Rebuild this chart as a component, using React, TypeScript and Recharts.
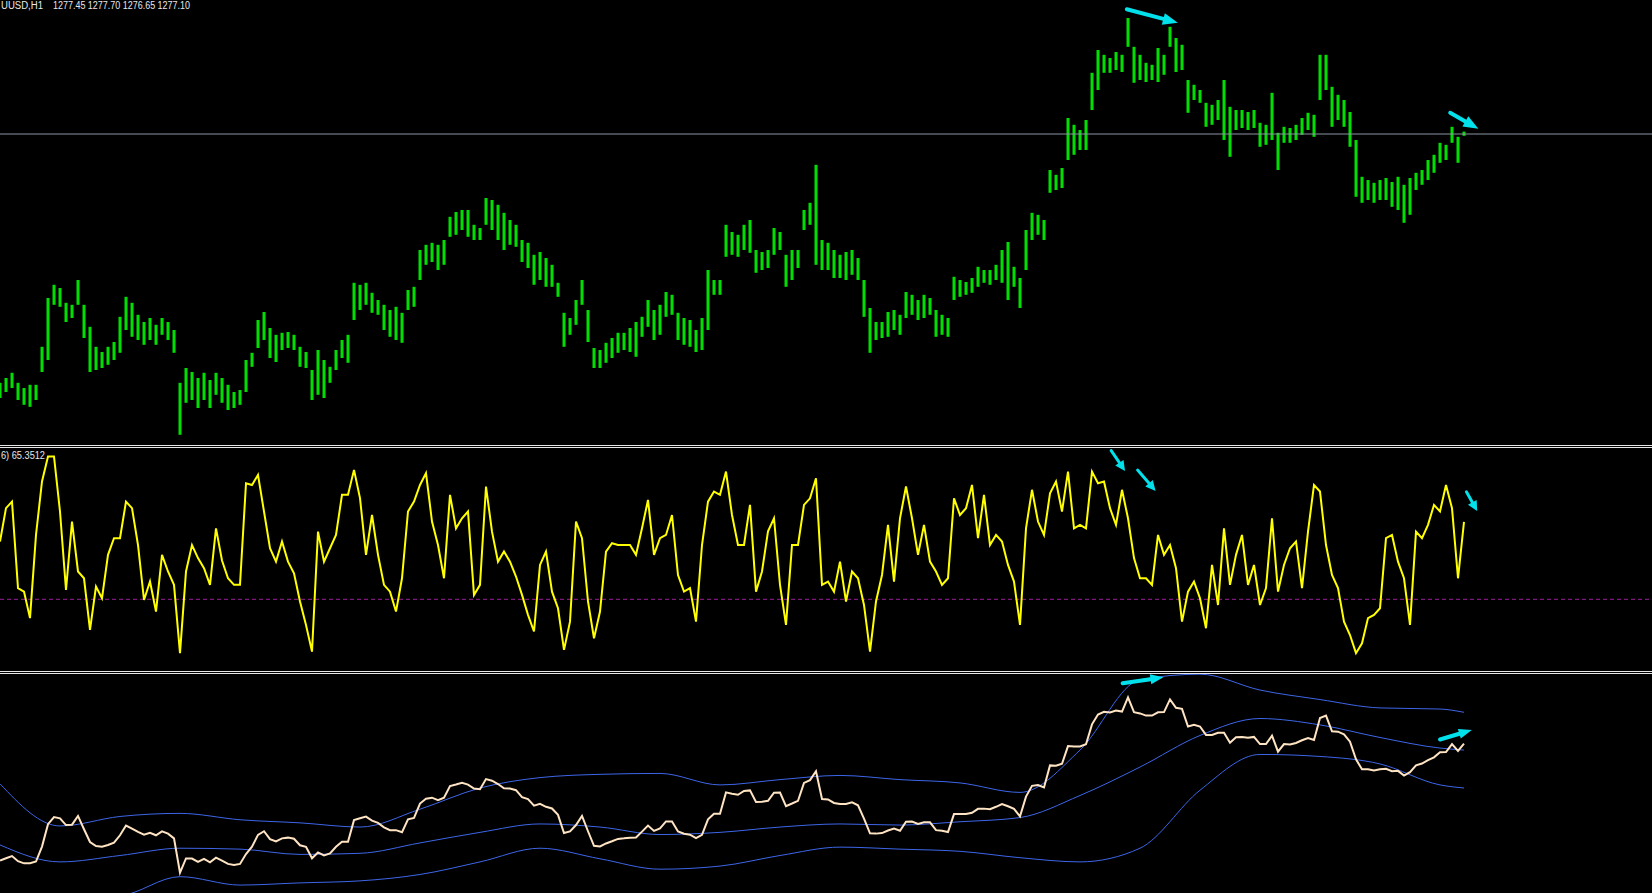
import {
  ComposedChart,
  LineChart,
  Bar,
  Line,
  XAxis,
  YAxis,
  ReferenceLine,
} from 'recharts'

// H1 bars, one entry per sampled bar (6px apart on screen)
const highs = [
  1214.9, 1216.1, 1217.4, 1214.9, 1213.6, 1214.4, 1214.4, 1223.9, 1236.1, 1239.4,
  1238.6, 1234.9, 1234.4, 1240.6, 1234.4, 1228.9, 1223.9, 1222.6, 1223.9, 1225.1,
  1231.4, 1236.4, 1234.9, 1231.9, 1230.1, 1231.1, 1229.4, 1231.1, 1230.1, 1228.1,
  1214.9, 1218.6, 1217.6, 1216.1, 1217.4, 1215.6, 1217.4, 1216.1, 1214.4, 1212.6,
  1213.1, 1220.6, 1222.4, 1230.6, 1232.6, 1228.6, 1226.9, 1227.4, 1227.6, 1226.9,
  1223.9, 1222.6, 1218.1, 1223.1, 1220.6, 1218.9, 1223.1, 1225.6, 1226.9, 1239.9,
  1239.4, 1239.9, 1237.4, 1235.6, 1234.4, 1233.1, 1233.9, 1232.4, 1238.1, 1238.9,
  1248.1, 1249.4, 1249.9, 1249.4, 1250.6, 1256.4, 1257.6, 1258.1, 1258.1, 1254.4,
  1253.6, 1261.1, 1260.6, 1259.4, 1257.4, 1255.6, 1254.4, 1250.6, 1249.9, 1246.9,
  1247.6, 1246.1, 1244.4, 1239.9, 1232.4, 1231.1, 1235.6, 1240.6, 1233.1, 1223.6,
  1223.1, 1224.9, 1226.1, 1227.4, 1227.4, 1228.6, 1230.1, 1231.4, 1235.6, 1233.1,
  1234.4, 1237.6, 1236.9, 1232.4, 1231.1, 1230.6, 1228.1, 1231.1, 1243.1, 1240.6,
  1240.6, 1254.4, 1252.6, 1251.9, 1254.4, 1255.6, 1248.1, 1247.6, 1248.1, 1253.6,
  1252.6, 1246.9, 1248.1, 1248.1, 1258.1, 1259.9, 1269.4, 1250.6, 1249.9, 1248.1,
  1246.9, 1247.6, 1248.1, 1246.1, 1240.6, 1233.6, 1230.1, 1230.1, 1232.6, 1233.1,
  1231.9, 1237.6, 1236.9, 1235.6, 1236.9, 1236.1, 1233.1, 1231.9, 1231.1, 1241.4,
  1240.6, 1240.1, 1241.1, 1243.9, 1243.1, 1243.1, 1244.4, 1248.1, 1250.1, 1243.9,
  1241.1, 1253.1, 1257.4, 1256.9, 1255.6, 1268.1, 1266.9, 1268.6, 1281.1, 1279.4,
  1278.1, 1280.6, 1292.4, 1298.1, 1296.9, 1296.1, 1297.6, 1296.9, 1306.1, 1298.9,
  1296.9, 1294.9, 1294.4, 1298.6, 1296.9, 1303.9, 1301.1, 1299.4, 1290.6, 1289.4,
  1288.1, 1284.9, 1284.4, 1285.6, 1290.6, 1283.9, 1283.1, 1283.1, 1282.6, 1283.1,
  1279.9, 1279.4, 1287.4, 1277.4, 1278.9, 1278.6, 1279.4, 1281.1, 1282.4, 1281.9,
  1296.9, 1296.9, 1288.9, 1286.9, 1285.6, 1282.6, 1275.6, 1266.4, 1265.6, 1264.9,
  1265.6, 1266.1, 1265.1, 1266.4, 1264.4, 1266.1, 1267.4, 1268.1, 1270.6, 1271.9,
  1274.9, 1274.4, 1278.9, 1276.4, 1277.7,
]

const lows = [
  1211.1, 1212.6, 1213.6, 1210.6, 1209.4, 1208.9, 1210.6, 1217.6, 1220.6, 1234.4,
  1233.9, 1230.1, 1231.1, 1234.4, 1226.1, 1217.6, 1218.1, 1218.6, 1219.4, 1220.6,
  1222.4, 1228.1, 1226.4, 1225.6, 1224.4, 1225.6, 1224.4, 1226.9, 1225.6, 1222.4,
  1201.9, 1209.9, 1210.6, 1208.6, 1210.6, 1208.6, 1211.9, 1209.9, 1208.1, 1208.6,
  1209.4, 1212.6, 1218.9, 1223.6, 1225.6, 1221.1, 1220.1, 1223.1, 1223.6, 1223.1,
  1218.9, 1218.6, 1210.6, 1211.9, 1211.1, 1214.9, 1218.1, 1221.1, 1219.9, 1230.6,
  1233.1, 1234.4, 1232.4, 1231.9, 1228.1, 1226.4, 1225.6, 1224.9, 1233.1, 1233.9,
  1240.6, 1244.4, 1245.1, 1243.1, 1244.4, 1251.4, 1251.9, 1253.1, 1251.4, 1250.6,
  1250.6, 1254.4, 1253.1, 1250.6, 1248.1, 1249.4, 1248.9, 1245.1, 1243.6, 1239.4,
  1240.6, 1238.9, 1238.9, 1236.4, 1223.9, 1226.9, 1229.4, 1234.4, 1225.1, 1218.6,
  1218.6, 1219.9, 1221.1, 1222.4, 1223.1, 1222.6, 1221.4, 1226.4, 1228.9, 1225.6,
  1226.9, 1231.4, 1231.9, 1225.6, 1224.4, 1223.9, 1222.6, 1223.1, 1228.1, 1236.9,
  1236.9, 1246.4, 1246.9, 1246.4, 1248.1, 1247.4, 1242.4, 1243.1, 1243.6, 1246.9,
  1248.1, 1238.9, 1240.6, 1243.6, 1253.1, 1254.4, 1244.4, 1243.1, 1243.1, 1241.1,
  1241.1, 1240.6, 1241.9, 1240.6, 1231.4, 1222.4, 1225.6, 1226.1, 1226.4, 1228.1,
  1226.9, 1231.1, 1231.9, 1230.6, 1231.1, 1231.9, 1226.4, 1226.9, 1226.4, 1235.6,
  1236.4, 1236.9, 1237.4, 1238.9, 1239.9, 1239.4, 1240.6, 1239.9, 1235.6, 1238.9,
  1233.6, 1243.1, 1250.6, 1251.9, 1250.6, 1262.4, 1263.1, 1263.6, 1270.6, 1271.9,
  1273.1, 1273.1, 1283.1, 1288.1, 1292.4, 1292.4, 1293.1, 1292.6, 1298.9, 1289.9,
  1290.6, 1290.1, 1290.6, 1290.1, 1291.9, 1298.9, 1292.6, 1293.1, 1282.4, 1285.6,
  1284.9, 1278.9, 1279.4, 1280.6, 1275.6, 1271.4, 1278.1, 1278.6, 1278.1, 1278.6,
  1273.9, 1274.4, 1275.6, 1268.1, 1274.9, 1274.9, 1275.6, 1276.9, 1278.1, 1276.4,
  1285.6, 1288.1, 1278.9, 1280.6, 1278.9, 1273.9, 1261.4, 1259.9, 1260.6, 1259.9,
  1260.6, 1260.6, 1258.9, 1258.1, 1254.9, 1256.9, 1263.1, 1264.4, 1265.6, 1267.4,
  1269.9, 1270.6, 1274.9, 1269.9, 1276.65,
]

const closes = [
  1213.0, 1214.3, 1215.5, 1212.7, 1211.5, 1211.6, 1212.5, 1220.7, 1233.0, 1236.9,
  1236.2, 1232.5, 1232.7, 1237.5, 1230.2, 1223.2, 1221.0, 1220.6, 1221.6, 1222.9,
  1226.9, 1232.2, 1230.6, 1228.7, 1227.2, 1228.3, 1226.9, 1229.0, 1227.8, 1225.2,
  1206.4, 1214.2, 1214.1, 1212.3, 1214.0, 1212.1, 1214.6, 1213.0, 1211.2, 1210.6,
  1211.2, 1216.6, 1220.6, 1227.1, 1229.1, 1224.8, 1223.5, 1225.2, 1225.6, 1225.0,
  1221.4, 1220.6, 1214.3, 1217.5, 1215.8, 1216.9, 1220.6, 1223.3, 1223.4, 1235.2,
  1236.2, 1237.1, 1234.9, 1233.7, 1231.2, 1229.7, 1229.7, 1228.6, 1235.6, 1236.4,
  1244.3, 1246.9, 1247.5, 1246.2, 1247.5, 1253.9, 1254.7, 1255.6, 1254.7, 1252.5,
  1252.1, 1257.7, 1256.8, 1255.0, 1252.7, 1252.5, 1251.6, 1247.8, 1246.7, 1243.1,
  1244.1, 1242.5, 1241.6, 1238.1, 1228.1, 1229.0, 1232.5, 1237.5, 1229.1, 1221.1,
  1220.8, 1222.4, 1223.6, 1224.9, 1225.2, 1225.6, 1225.7, 1228.9, 1232.2, 1229.3,
  1230.6, 1234.5, 1234.4, 1229.0, 1227.7, 1227.2, 1225.3, 1227.1, 1235.6, 1238.7,
  1238.7, 1250.4, 1249.7, 1249.1, 1251.2, 1251.5, 1245.2, 1245.3, 1245.8, 1250.2,
  1250.3, 1242.9, 1244.3, 1245.8, 1255.6, 1257.1, 1262.0, 1246.8, 1246.5, 1244.6,
  1244.0, 1244.1, 1245.0, 1243.3, 1236.0, 1228.0, 1227.8, 1228.1, 1229.5, 1230.6,
  1229.4, 1234.3, 1234.4, 1233.1, 1234.0, 1234.0, 1229.7, 1229.4, 1228.7, 1238.5,
  1238.5, 1238.5, 1239.2, 1241.4, 1241.5, 1241.2, 1242.5, 1244.0, 1242.8, 1241.4,
  1237.3, 1248.1, 1254.0, 1254.4, 1253.1, 1265.2, 1265.0, 1266.1, 1275.8, 1275.6,
  1275.6, 1276.8, 1287.7, 1293.1, 1294.6, 1294.2, 1295.3, 1294.7, 1302.5, 1294.4,
  1293.7, 1292.5, 1292.5, 1294.3, 1294.4, 1301.4, 1296.8, 1296.2, 1286.5, 1287.5,
  1286.5, 1281.9, 1281.9, 1283.1, 1283.1, 1277.6, 1280.6, 1280.8, 1280.3, 1280.8,
  1276.9, 1276.9, 1281.5, 1272.7, 1276.9, 1276.7, 1277.5, 1279.0, 1280.2, 1279.1,
  1291.2, 1292.5, 1283.9, 1283.7, 1282.2, 1278.2, 1268.5, 1263.1, 1263.1, 1262.4,
  1263.1, 1263.3, 1262.0, 1262.2, 1259.6, 1261.5, 1265.2, 1266.2, 1268.1, 1269.6,
  1272.4, 1272.5, 1276.9, 1273.1, 1277.1,
]

// oscillator, 0..100 scale, level line at 30
const oscValues = [
  56.4, 71.6, 74.6, 35.1, 33.5, 21.4, 59.4, 83.8, 95.2, 95.2,
  70.1, 34.3, 65.5, 42.7, 39.6, 16.0, 35.8, 30.5, 50.3, 57.9,
  57.9, 74.6, 71.6, 54.8, 29.7, 38.1, 24.4, 50.3, 42.7, 36.6,
  5.4, 42.7, 54.8, 48.8, 44.2, 36.6, 62.4, 47.7, 39.6, 36.6,
  36.6, 83.0, 82.2, 86.8, 70.1, 53.3, 47.2, 56.4, 47.2, 41.9,
  29.0, 18.3, 6.1, 60.9, 47.2, 53.3, 59.4, 77.7, 77.7, 89.1,
  76.2, 50.3, 68.5, 50.3, 36.6, 33.5, 24.4, 39.6, 70.1, 74.6,
  82.2, 87.6, 65.5, 54.8, 39.6, 77.7, 62.4, 67.0, 70.1, 32.0,
  36.6, 81.5, 60.9, 47.2, 51.8, 47.2, 40.4, 32.0, 22.9, 15.3,
  45.7, 51.8, 33.5, 25.9, 6.9, 19.8, 65.5, 57.9, 29.0, 12.2,
  24.4, 51.8, 55.6, 54.8, 54.8, 54.8, 50.3, 62.4, 75.4, 50.3,
  57.9, 59.4, 68.5, 41.1, 33.5, 35.1, 19.8, 54.8, 74.6, 79.2,
  77.7, 88.3, 68.5, 54.8, 54.8, 73.1, 33.5, 42.7, 61.0, 67.0,
  36.6, 18.3, 54.8, 54.8, 73.1, 76.1, 85.3, 36.6, 38.1, 33.5,
  47.2, 29.0, 42.7, 39.6, 27.4, 6.1, 29.0, 41.1, 64.0, 38.1,
  67.0, 81.5, 67.0, 50.3, 64.0, 47.2, 42.7, 36.6, 39.6, 76.1,
  68.5, 71.6, 82.2, 57.9, 77.7, 54.8, 59.4, 56.4, 45.7, 38.1,
  18.3, 62.4, 80.0, 65.5, 59.4, 78.4, 83.8, 70.1, 88.3, 62.4,
  64.0, 62.4, 88.3, 83.0, 83.8, 71.6, 64.0, 80.0, 67.0, 48.8,
  39.6, 39.6, 36.6, 59.4, 50.3, 54.8, 44.2, 19.8, 33.5, 38.1,
  30.5, 16.8, 45.7, 27.4, 62.4, 36.6, 50.3, 59.4, 36.6, 45.7,
  27.4, 35.1, 67.0, 33.5, 45.7, 53.3, 56.4, 35.1, 60.9, 82.2,
  79.2, 54.8, 41.1, 35.1, 19.8, 13.7, 5.4, 9.9, 21.4, 22.9,
  25.9, 57.9, 59.4, 47.2, 39.6, 18.3, 60.9, 57.9, 64.0, 73.1,
  70.1, 82.2, 71.6, 39.6, 65.4,
]

// envelope bands, read every 10 bars
const bandIndex = [
  0, 10, 20, 30, 40, 50, 60, 70, 80, 90, 100, 110, 120,
  130, 140, 150, 160, 170, 180, 190, 200, 210, 220, 230, 240, 244,
]
const bandUpper = [
  1255.1, 1232.0, 1237.2, 1238.9, 1235.4, 1233.7, 1231.4, 1241.2, 1252.8, 1258.5, 1260.3, 1260.8, 1254.5,
  1257.4, 1259.7, 1257.4, 1255.6, 1250.4, 1273.6, 1312.2, 1315.2, 1306.5, 1301.3, 1296.7, 1296.1, 1294.3,
]
const bandMiddle = [
  1221.6, 1212.3, 1215.8, 1219.8, 1219.3, 1216.4, 1217.0, 1222.7, 1228.5, 1233.1, 1231.4, 1227.3, 1228.5,
  1231.4, 1233.1, 1232.5, 1234.3, 1236.6, 1248.7, 1264.3, 1281.6, 1290.9, 1287.4, 1280.5, 1274.7, 1273.6,
]
const bandLower = [
  1188.1, 1192.6, 1193.8, 1204.2, 1199.6, 1200.8, 1201.9, 1205.4, 1212.3, 1219.8, 1214.0, 1208.3, 1210.0,
  1215.8, 1220.4, 1219.3, 1218.1, 1214.6, 1212.3, 1219.8, 1251.6, 1271.2, 1270.1, 1266.0, 1254.5, 1252.8,
]

const bidPrice = 1277.1
const oscLevel = 30

// drawn arrows: [bar, value] -> [bar, value]
const priceArrows = [
  [187.8, 1308.3, 196.3, 1304.9],
  [241.7, 1282.4, 246.4, 1278.4],
]
const oscArrows = [
  [185.2, 97.9, 187.5, 88.6],
  [189.6, 89.0, 192.6, 79.5],
  [244.4, 79.1, 246.2, 70.3],
]
const closeArrows = [
  [187.1, 1310.2, 193.9, 1313.5],
  [240.0, 1279.4, 245.3, 1284.6],
]

const W = 1652
const X_MAX = W / 6
const ARROW = '#00e1ec'

const priceData = highs.map((h, i) => ({ i, range: [lows[i], h] }))
const closeData = closes.map((c, i) => ({ i, close: c }))
const oscData = oscValues.map((v, i) => ({ i, osc: v }))
const upperData = bandIndex.map((i, k) => ({ i, v: bandUpper[k] }))
const middleData = bandIndex.map((i, k) => ({ i, v: bandMiddle[k] }))
const lowerData = bandIndex.map((i, k) => ({ i, v: bandLower[k] }))

const noMargin = { top: 0, right: 0, bottom: 0, left: 0 }

function arrowShape(head: number, half: number, thick: number) {
  return (props: any) => {
    const { x1, y1, x2, y2 } = props
    const dx = x2 - x1
    const dy = y2 - y1
    const len = Math.sqrt(dx * dx + dy * dy) || 1
    const ux = dx / len
    const uy = dy / len
    const bx = x2 - ux * head
    const by = y2 - uy * head
    return (
      <g>
        <line x1={x1} y1={y1} x2={bx} y2={by} stroke={ARROW} strokeWidth={thick} strokeLinecap="round" />
        <polygon
          points={`${x2},${y2} ${bx - uy * half},${by + ux * half} ${bx + uy * half},${by - ux * half}`}
          fill={ARROW}
        />
      </g>
    )
  }
}

function arrowLines(list: number[][], head: number, half: number, thick: number) {
  return list.map((a, k) => (
    <ReferenceLine
      key={k}
      segment={[{ x: a[0], y: a[1] }, { x: a[2], y: a[3] }]}
      ifOverflow="visible"
      shape={arrowShape(head, half, thick)}
    />
  ))
}

function BarShape(props: any) {
  const { x, y, width, height } = props
  if (height == null || isNaN(height)) return null
  return <rect x={x + width / 2 - 1.5} y={y} width={3} height={Math.max(1, Math.abs(height))} fill="#00e000" />
}

function PricePane() {
  return (
    <ComposedChart width={W} height={444} data={priceData} margin={noMargin}>
      <XAxis dataKey="i" type="number" domain={[0, X_MAX]} hide allowDataOverflow />
      <YAxis type="number" domain={[1199.6, 1310.6]} hide allowDataOverflow />
      <ReferenceLine y={bidPrice} stroke="#8c96a5" strokeWidth={1} />
      <Bar dataKey="range" barSize={2} shape={BarShape} isAnimationActive={false} />
      {arrowLines(priceArrows, 15, 6, 4)}
    </ComposedChart>
  )
}

function OscPane() {
  return (
    <LineChart width={W} height={219} data={oscData} margin={noMargin}>
      <XAxis dataKey="i" type="number" domain={[0, X_MAX]} hide allowDataOverflow />
      <YAxis type="number" domain={[0, 100]} hide allowDataOverflow />
      <ReferenceLine y={oscLevel} stroke="#9b1d9b" strokeDasharray="4 3" strokeWidth={1} />
      <Line
        dataKey="osc"
        type="linear"
        stroke="#ffff00"
        strokeWidth={2}
        dot={false}
        activeDot={false}
        isAnimationActive={false}
      />
      {arrowLines(oscArrows, 10, 5, 3)}
    </LineChart>
  )
}

function BandPane() {
  return (
    <LineChart width={W} height={219} margin={noMargin}>
      <XAxis dataKey="i" type="number" domain={[0, X_MAX]} hide allowDataOverflow />
      <YAxis type="number" domain={[1195.25, 1315.3]} hide allowDataOverflow />
      {[upperData, middleData, lowerData].map((d, k) => (
        <Line
          key={k}
          data={d}
          dataKey="v"
          type="monotone"
          stroke="#3d66e8"
          strokeWidth={1}
          dot={false}
          activeDot={false}
          isAnimationActive={false}
        />
      ))}
      <Line
        data={closeData}
        dataKey="close"
        type="linear"
        stroke="#ffe4c4"
        strokeWidth={2}
        dot={false}
        activeDot={false}
        isAnimationActive={false}
      />
      {arrowLines(closeArrows, 13, 5, 4)}
    </LineChart>
  )
}

const sep = (top: number) => (
  <div style={{ position: 'absolute', left: 0, top, width: W, height: 1, background: '#e6e6e6' }} />
)

export default function App() {
  return (
    <div style={{ position: 'relative', width: W, height: 893, background: '#000', overflow: 'hidden' }}>
      <style>{'body{margin:0;background:#000}'}</style>
      <div style={{ position: 'absolute', left: 0, top: 0 }}>
        <PricePane />
      </div>
      <div style={{ position: 'absolute', left: 0, top: 446 }}>
        <OscPane />
      </div>
      <div style={{ position: 'absolute', left: 0, top: 674 }}>
        <BandPane />
      </div>
      {sep(445)}
      {sep(447)}
      {sep(671)}
      {sep(673)}
      <svg
        width={W}
        height={893}
        style={{ position: 'absolute', left: 0, top: 0, pointerEvents: 'none' }}
        fontFamily="Liberation Sans, Arial, sans-serif"
        fontSize={10}
        fill="#e8e8e8"
      >
        <text x={1} y={9} textLength={42} lengthAdjust="spacingAndGlyphs">UUSD,H1</text>
        <text x={53} y={9} textLength={137} lengthAdjust="spacingAndGlyphs">1277.45 1277.70 1276.65 1277.10</text>
        <text x={1} y={459} textLength={44} lengthAdjust="spacingAndGlyphs">6) 65.3512</text>
      </svg>
    </div>
  )
}
